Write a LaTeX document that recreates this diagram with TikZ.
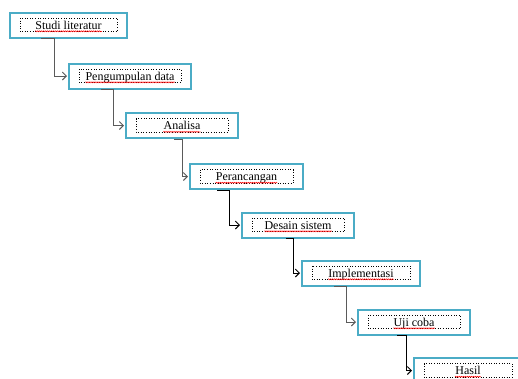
\documentclass[tikz,border=0pt]{standalone}
\usepackage{fontspec}
\setmainfont{Liberation Serif}
\usetikzlibrary{arrows.meta,decorations.pathmorphing}
\definecolor{boxcyan}{HTML}{4BACC6}
\definecolor{conngray}{HTML}{5A5A5A}
\begin{document}
\begin{tikzpicture}[x=1pt,y=-1pt,
  outerbox/.style={draw=boxcyan, line width=2pt, fill=white,
    minimum width=#1, minimum height=25pt, inner sep=0pt,
    path picture={\draw[black,dotted,line width=0.6pt]
      ([shift={(10pt,-5.5pt)}]path picture bounding box.north west) rectangle
      ([shift={(-10pt,6pt)}]path picture bounding box.south east);}},
  steptext/.style={font=\fontsize{12}{14}\selectfont, anchor=base, inner sep=0pt},
  squig/.style={red, line width=0.45pt, decorate,
    decoration={snake, amplitude=0.6pt, segment length=2pt}},
  conn/.style={draw=conngray, line width=0.9pt, shorten >=1pt,
    -{Straight Barb[length=4pt,width=8pt]}},
  connb/.style={conn, draw=black}
]
\useasboundingbox (0,0) rectangle (518,378);
\clip (0,0) rectangle (518,378);
\fill[white] (0,0) rectangle (518,378);

\node[outerbox=117pt] (b1) at (68.5,25) {};
\node[outerbox=122pt] (b2) at (130,76) {};
\node[outerbox=112pt] (b3) at (182,125.5) {};
\node[outerbox=113pt] (b4) at (246.5,176.5) {};
\node[outerbox=112pt] (b5) at (298,225) {};
\node[outerbox=118pt] (b6) at (361,273) {};
\node[outerbox=112pt] (b7) at (414,322) {};
\node[outerbox=108pt] (b8) at (468,370.5) {};

\node[steptext] (t1) at ([yshift=-4.3pt]b1.center) {Studi literatur};
\node[steptext] (t2) at ([yshift=-4.3pt]b2.center) {Pengumpulan data};
\node[steptext] (t3) at ([yshift=-4.3pt]b3.center) {Analisa};
\node[steptext] (t4) at ([yshift=-4.3pt]b4.center) {Perancangan};
\node[steptext] (t5) at ([yshift=-4.3pt]b5.center) {Desain sistem};
\node[steptext] (t6) at ([yshift=-4.3pt]b6.center) {Implementasi};
\node[steptext] (t7) at ([yshift=-4.3pt]b7.center) {Uji coba};
\node[steptext] (t8) at ([yshift=-4.3pt]b8.center) {Hasil};

\foreach \t in {t1,t2,t3,t4,t5,t6,t7,t8}
  \draw[squig] ([yshift=-2pt]\t.base west) -- ([yshift=-2pt]\t.base east);

\draw[conn]  ([xshift=32pt]b1.south west) -- ([xshift=45pt]b1.south west) |- (b2.west);
\draw[conn]  ([xshift=33pt]b2.south west) -- ([xshift=45pt]b2.south west) |- (b3.west);
\draw[conn]  ([xshift=49pt]b3.south west) -- ([xshift=57pt]b3.south west) |- (b4.west);
\draw[connb] ([xshift=28pt]b4.south west) -- ([xshift=40pt]b4.south west) |- (b5.west);
\draw[connb] ([xshift=45pt]b5.south west) -- ([xshift=52pt]b5.south west) |- (b6.west);
\draw[conn]  ([xshift=33pt]b6.south west) -- ([xshift=45pt]b6.south west) |- (b7.west);
\draw[connb] ([xshift=40pt]b7.south west) -- ([xshift=49pt]b7.south west) |- (b8.west);
\end{tikzpicture}
\end{document}
